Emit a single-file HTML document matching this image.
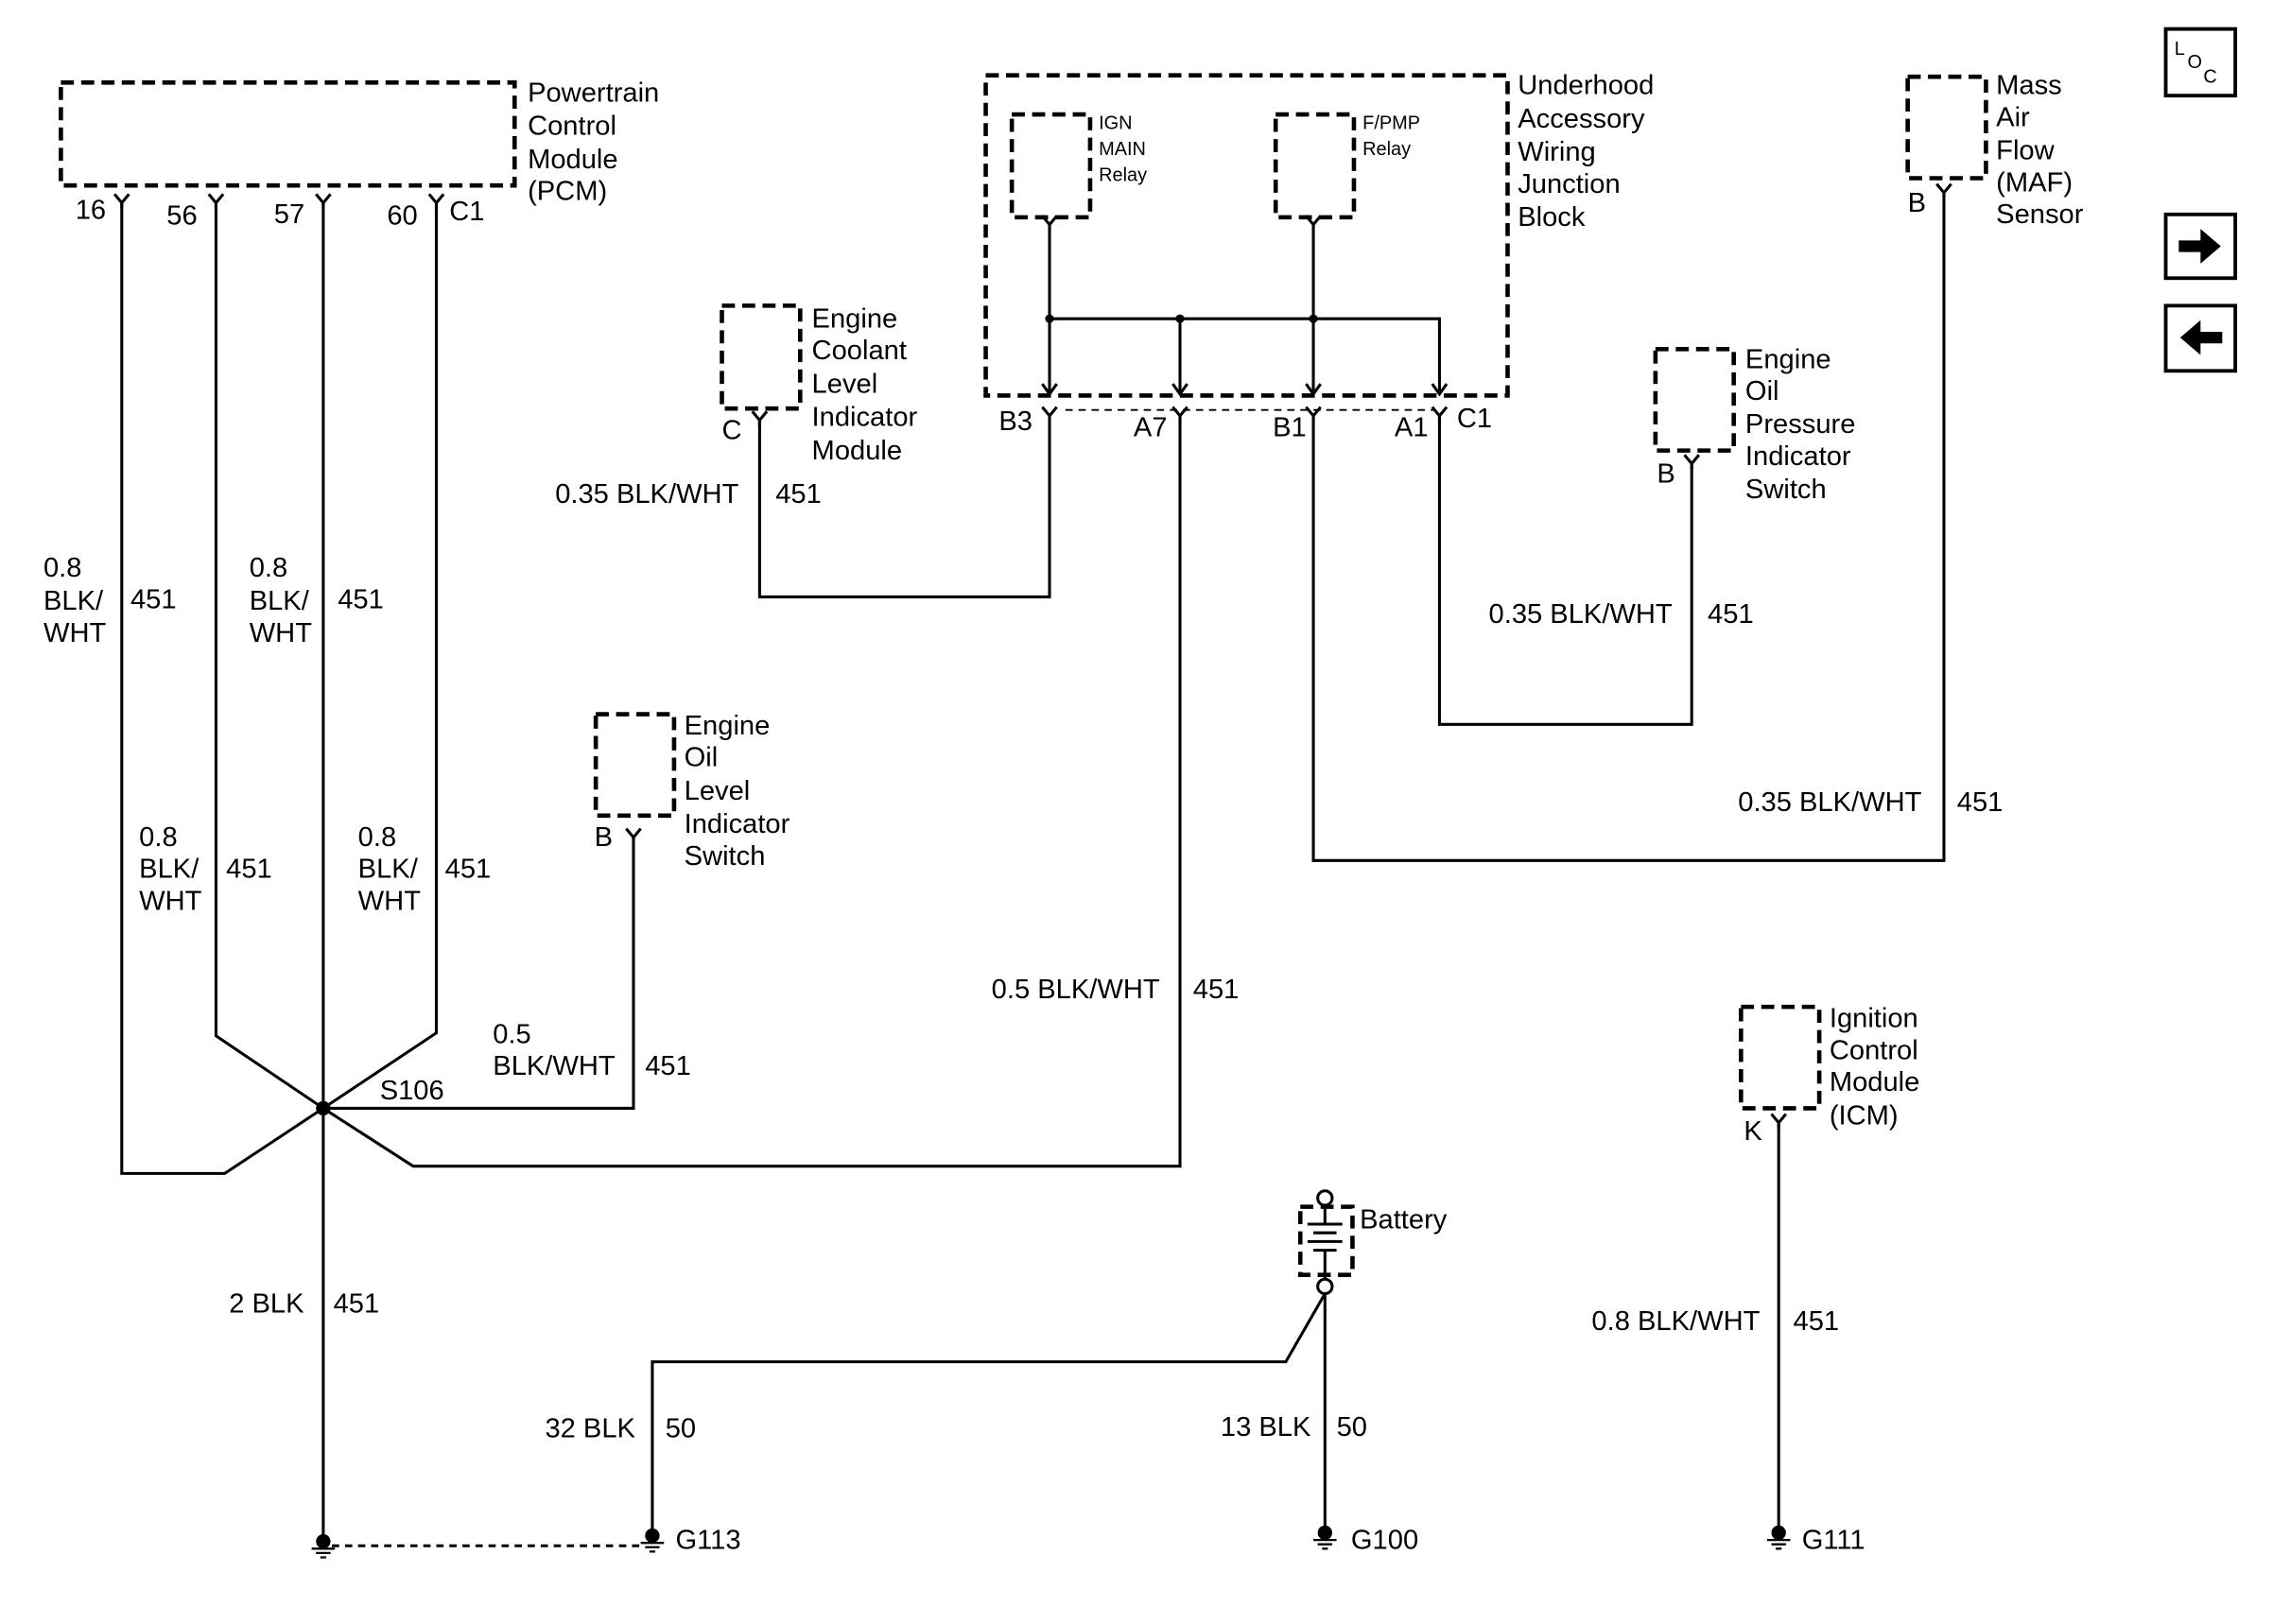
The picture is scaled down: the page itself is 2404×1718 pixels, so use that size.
<!DOCTYPE html>
<html><head><meta charset="utf-8"><style>
html,body{margin:0;padding:0;background:#fff;}
svg{display:block;}
text{font-family:"Liberation Sans",sans-serif;font-size:19px;fill:#000;}
.s{font-size:13px;}
</style></head><body>
<svg width="2404" height="1718" viewBox="0 0 1568 1121" preserveAspectRatio="none" xmlns="http://www.w3.org/2000/svg">
<defs>
<g id="fk"><path d="M-5,-6 L0,0 L5,-6 M0,0 L0,4" fill="none" stroke="#000" stroke-width="2"/></g>
<g id="ar"><path d="M-5,-7 L0,0 L5,-7" fill="none" stroke="#000" stroke-width="2"/></g>
<g id="gnd"><circle cx="0" cy="0" r="5" fill="#000"/><path d="M-8,5 H8 M-5,8 H5 M-2,11 H2" stroke="#000" stroke-width="1.5"/></g>
</defs>
<g fill="none" stroke="#000" stroke-width="3" stroke-dasharray="9,5">
<rect x="42" y="57" width="313" height="71"/>
<rect x="680" y="52" width="360" height="221"/>
<rect x="698" y="79" width="54" height="71"/>
<rect x="880" y="79" width="54" height="71"/>
<rect x="498" y="211" width="54" height="71"/>
<rect x="1142" y="241" width="54" height="70"/>
<rect x="1316" y="53" width="54" height="70"/>
<rect x="411" y="493" width="54" height="70"/>
<rect x="1201" y="695" width="54" height="70"/>
<rect x="897" y="833" width="36" height="47"/>
</g>
<g fill="none" stroke="#000" stroke-width="2">
<path d="M84,140 V810 H155 L223,765"/>
<path d="M149,140 V715 L223,765"/>
<path d="M223,140 V1062"/>
<path d="M301,140 V713 L223,765"/>
<path d="M223,765 L285,805 H814 V287"/>
<path d="M223,765 H437 V578"/>
<path d="M524,290 V412 H724 V287"/>
<path d="M724,155 V270 M906,155 V270 M724,220 H993 V270 M814,220 V270"/>
<path d="M993,287 V500 H1167 V320"/>
<path d="M906,287 V594 H1341 V133"/>
<path d="M450,1062 V940 H887 L914,893"/>
<path d="M914,893 V1060"/>
<path d="M1227,775 V1060"/>
<path d="M229,1067 H444" stroke-dasharray="5,4"/>
<path d="M735,283 H990" stroke-dasharray="5,4" stroke-width="1.2"/>
<path d="M914,831 V845 M902,845 H926 M906,851 H922 M902,857 H926 M906,863 H922 M914,863 V883"/>
</g>
<circle cx="914" cy="827" r="5" fill="#fff" stroke="#000" stroke-width="2"/>
<circle cx="914" cy="888" r="5" fill="#fff" stroke="#000" stroke-width="2"/>
<circle cx="223" cy="765" r="5" fill="#000"/>
<circle cx="724" cy="220" r="3" fill="#000"/><circle cx="814" cy="220" r="3" fill="#000"/><circle cx="906" cy="220" r="3" fill="#000"/>
<use href="#fk" x="84" y="140"/><use href="#fk" x="149" y="140"/><use href="#fk" x="223" y="140"/><use href="#fk" x="301" y="140"/>
<use href="#fk" x="724" y="155"/><use href="#fk" x="906" y="155"/>
<use href="#ar" x="724" y="272"/><use href="#ar" x="814" y="272"/><use href="#ar" x="906" y="272"/><use href="#ar" x="993" y="272"/>
<use href="#fk" x="724" y="287"/><use href="#fk" x="814" y="287"/><use href="#fk" x="906" y="287"/><use href="#fk" x="993" y="287"/>
<use href="#fk" x="524" y="290"/><use href="#fk" x="1167" y="320"/><use href="#fk" x="1341" y="133"/><use href="#fk" x="437" y="578"/><use href="#fk" x="1227" y="775"/>
<use href="#gnd" x="223" y="1064"/><use href="#gnd" x="450" y="1060"/><use href="#gnd" x="914" y="1058"/><use href="#gnd" x="1227" y="1058"/>
<text x="364" y="70">Powertrain</text><text x="364" y="93">Control</text><text x="364" y="116">Module</text><text x="364" y="138">(PCM)</text>
<text x="52" y="151">16</text><text x="115" y="155">56</text><text x="189" y="154">57</text><text x="267" y="155">60</text><text x="310" y="152">C1</text>
<text x="1047" y="65">Underhood</text><text x="1047" y="88">Accessory</text><text x="1047" y="111">Wiring</text><text x="1047" y="133">Junction</text><text x="1047" y="156">Block</text>
<text class="s" x="758" y="89">IGN</text><text class="s" x="758" y="107">MAIN</text><text class="s" x="758" y="125">Relay</text>
<text class="s" x="940" y="89">F/PMP</text><text class="s" x="940" y="107">Relay</text>
<text x="689" y="297">B3</text><text x="782" y="301">A7</text><text x="878" y="301">B1</text><text x="962" y="301">A1</text><text x="1005" y="295">C1</text>
<text x="560" y="226">Engine</text><text x="560" y="248">Coolant</text><text x="560" y="271">Level</text><text x="560" y="294">Indicator</text><text x="560" y="317">Module</text><text x="498" y="303">C</text>
<text x="1204" y="254">Engine</text><text x="1204" y="276">Oil</text><text x="1204" y="299">Pressure</text><text x="1204" y="321">Indicator</text><text x="1204" y="344">Switch</text><text x="1143" y="333">B</text>
<text x="1377" y="65">Mass</text><text x="1377" y="87">Air</text><text x="1377" y="110">Flow</text><text x="1377" y="132">(MAF)</text><text x="1377" y="154">Sensor</text><text x="1316" y="146">B</text>
<text x="472" y="507">Engine</text><text x="472" y="529">Oil</text><text x="472" y="552">Level</text><text x="472" y="575">Indicator</text><text x="472" y="597">Switch</text><text x="410" y="584">B</text>
<text x="1262" y="709">Ignition</text><text x="1262" y="731">Control</text><text x="1262" y="753">Module</text><text x="1262" y="776">(ICM)</text><text x="1203" y="787">K</text>
<text x="938" y="848">Battery</text>
<text x="383" y="347">0.35 BLK/WHT</text><text x="535" y="347">451</text>
<text x="1027" y="430">0.35 BLK/WHT</text><text x="1178" y="430">451</text>
<text x="1199" y="560">0.35 BLK/WHT</text><text x="1350" y="560">451</text>
<text x="684" y="689">0.5 BLK/WHT</text><text x="823" y="689">451</text>
<text x="30" y="398">0.8</text><text x="30" y="421">BLK/</text><text x="30" y="443">WHT</text><text x="90" y="420">451</text>
<text x="172" y="398">0.8</text><text x="172" y="421">BLK/</text><text x="172" y="443">WHT</text><text x="233" y="420">451</text>
<text x="96" y="584">0.8</text><text x="96" y="606">BLK/</text><text x="96" y="628">WHT</text><text x="156" y="606">451</text>
<text x="247" y="584">0.8</text><text x="247" y="606">BLK/</text><text x="247" y="628">WHT</text><text x="307" y="606">451</text>
<text x="340" y="720">0.5</text><text x="340" y="742">BLK/WHT</text><text x="445" y="742">451</text><text x="262" y="759">S106</text>
<text x="158" y="906">2 BLK</text><text x="230" y="906">451</text>
<text x="376" y="992">32 BLK</text><text x="459" y="992">50</text>
<text x="842" y="991">13 BLK</text><text x="922" y="991">50</text>
<text x="1098" y="918">0.8 BLK/WHT</text><text x="1237" y="918">451</text>
<text x="466" y="1069">G113</text><text x="932" y="1069">G100</text><text x="1243" y="1069">G111</text>
<rect x="1494" y="20" width="48" height="46" fill="none" stroke="#000" stroke-width="2.5"/>
<text class="s" x="1500" y="38">L</text><text class="s" x="1509" y="47">O</text><text class="s" x="1520" y="57">C</text>
<rect x="1494" y="148" width="48" height="44" fill="none" stroke="#000" stroke-width="2.5"/>
<path d="M1503,166 H1518 V158 L1532,170 L1518,182 V174 H1503 Z" fill="#000"/>
<rect x="1494" y="211" width="48" height="45" fill="none" stroke="#000" stroke-width="2.5"/>
<path d="M1533,229 H1518 V221 L1504,233 L1518,245 V237 H1533 Z" fill="#000"/>
</svg>
</body></html>
